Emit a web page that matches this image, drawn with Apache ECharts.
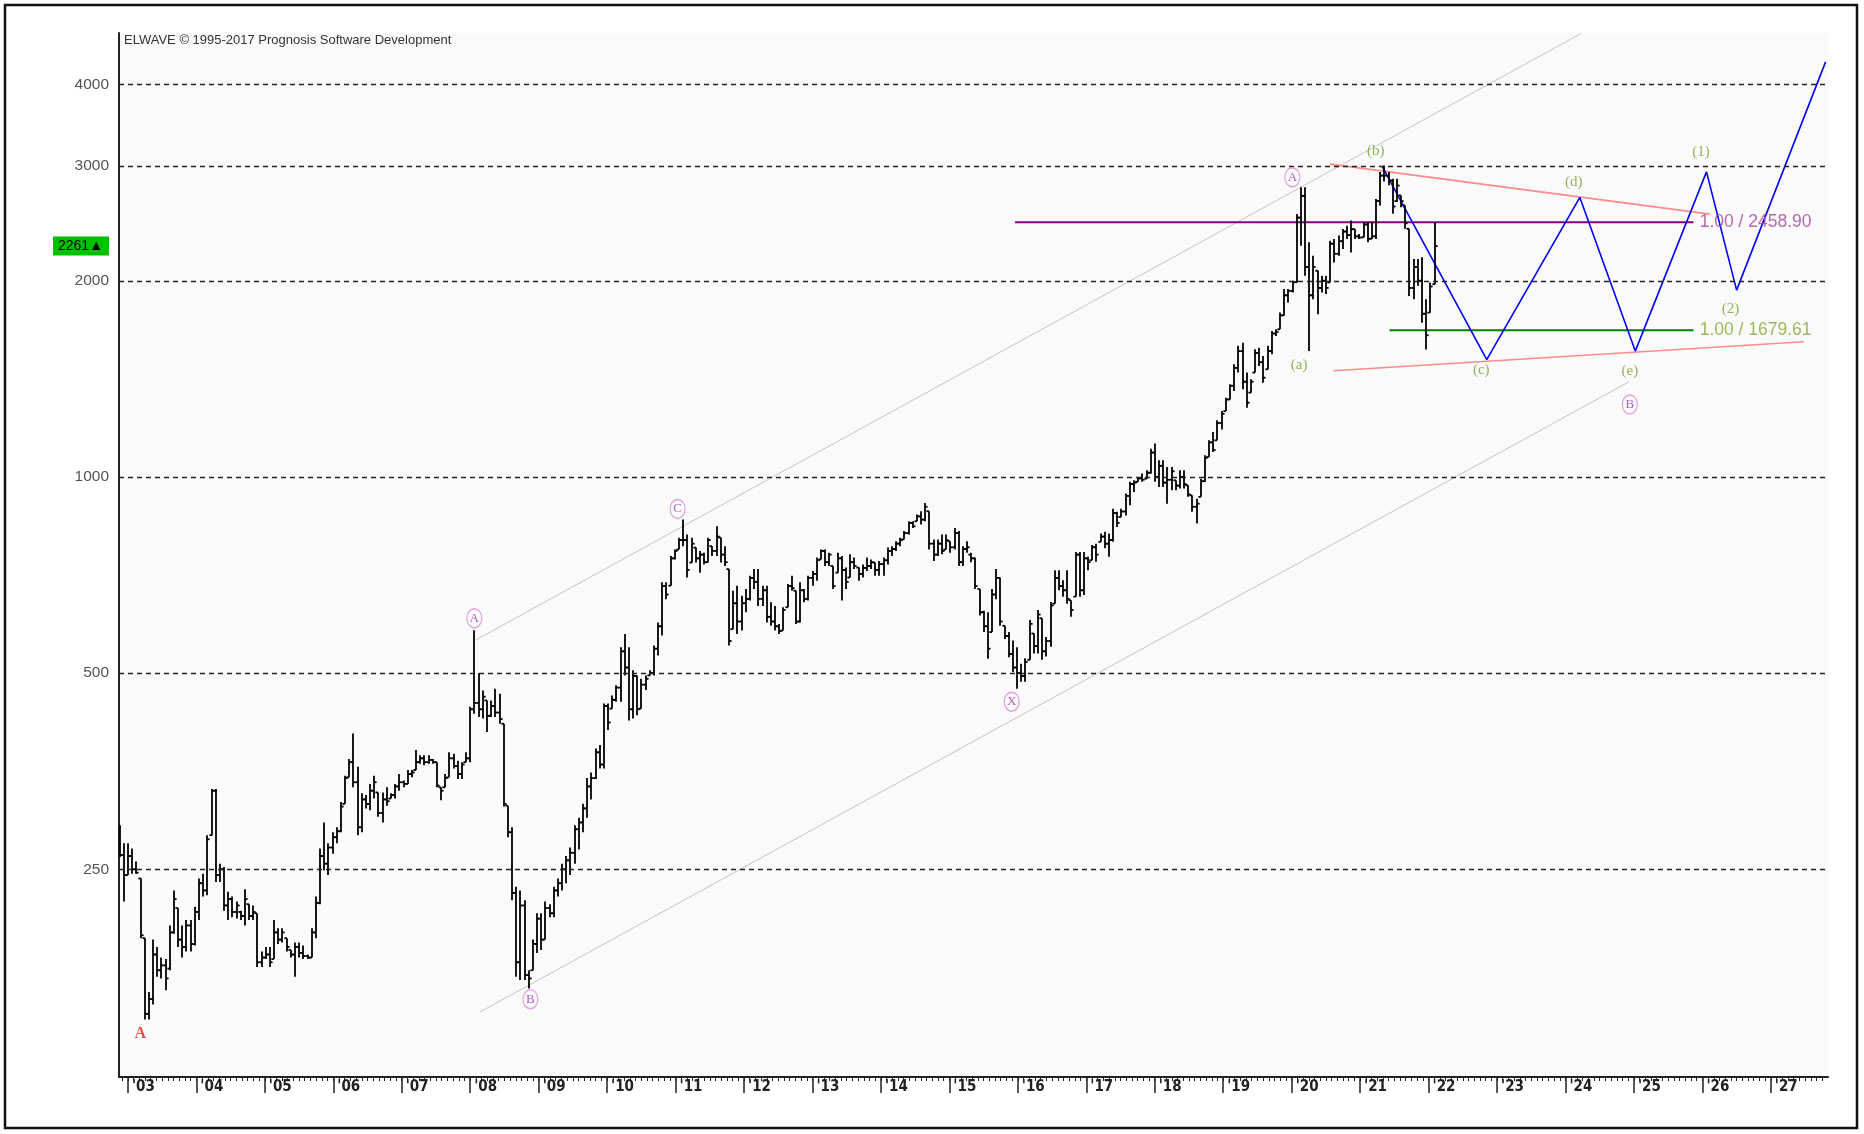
<!DOCTYPE html>
<html><head><meta charset="utf-8">
<script src="https://cdn.jsdelivr.net/npm/echarts@6/dist/echarts.min.js"></script>
<style>html,body{margin:0;padding:0;background:#fff}#c{width:1864px;height:1134px}</style>
</head><body><div id="c"></div>
<script>
// ---- time base of the bars (one bar every 1/16.4 year) ----
const firstBarYear = 2002.88;
const barsPerYear = 16.4;

// ---- OHLC bars [open, high, low, close] ----
const bars2003to2009 = [
[285,292,261,263],[263,274,223,245],[245,274,245,262],[262,269,246,250],[250,257,246,247],
[242,242,196,198],[196,196,147,150],[150,162,147,158],[158,195,155,185],[185,190,171,175],
[175,183,170,178],[178,182,163,170],[176,205,175,200],[200,232,199,225],[218,218,190,195],
[195,205,183,190],[190,209,187,205],[205,209,187,192],[192,219,191,215],[215,242,209,238],
[238,246,227,232],[232,282,228,278],[282,332,282,330],[330,332,239,245],[245,255,239,250],
[250,252,216,220],[220,231,209,225],[225,227,211,215],[215,223,210,220],[215,216,209,212],
[212,233,205,225],[221,221,209,212],[212,220,209,215],[214,214,177,180],[180,187,177,183],
[183,190,182,185],[185,190,177,180],[182,209,182,200],[200,203,192,195],[195,203,193,200],
[196,196,187,190],[188,188,183,185],[185,193,171,190],[190,193,183,186],[186,191,182,184],
[184,185,182,183],[183,203,183,200],[200,227,196,222],[222,269,221,262],[262,295,249,255],
[255,274,245,270],[270,285,264,280],[280,290,274,286],[286,317,285,312],[315,348,315,345],
[346,369,346,365],[365,404,334,340],[340,359,282,290],[290,327,285,320],[320,325,310,315],
[315,338,308,330],[330,348,321,340],[328,328,301,305],[305,328,295,320],[320,334,313,318],
[321,327,321,325],[325,338,321,335],[335,350,330,340],[340,342,334,338],[338,355,338,350],
[350,355,346,352],[355,381,355,365],[365,374,363,370],[370,374,361,365],[365,374,363,368],
[368,369,363,365],[365,365,334,336],[334,334,319,330],[334,350,334,345],[346,378,346,370],
[370,376,357,360],[360,367,344,350],[350,365,344,362],[365,378,365,370],[370,444,365,440],
[440,582,433,450],[450,500,428,440],[440,470,426,460],[454,454,406,430],[430,454,428,445],
[445,473,428,435],[435,465,418,425],[418,418,312,315],[313,313,280,285],[285,290,224,230],
[230,235,171,180],[180,232,169,220],[220,224,169,172],[172,175,164,170],[175,195,175,192],
[192,214,186,210],[210,214,188,195],[195,223,195,218],[218,221,211,214],[214,235,211,232],
[232,242,227,238]
];
const bars2009to2016 = [
[238,255,232,250],[250,262,238,258],[258,270,245,265],[265,292,255,288],[288,300,268,295],
[295,315,285,310],[310,345,300,335],[335,352,320,345],
[345,383,344,378],[378,388,357,362],[362,449,357,445],[445,449,409,420],[441,462,441,455],
[455,479,452,475],[475,548,452,540],[540,574,496,510],[510,548,423,440],[440,505,426,495],
[495,496,431,440],[441,490,441,480],[480,496,471,490],[496,505,496,500],[500,551,496,545],
[545,598,532,590],[590,689,571,680],[680,689,649,660],[681,756,681,750],[750,774,747,770],
[774,807,774,800],[800,860,783,800],[800,816,701,720],[739,807,739,790],[779,779,739,750],
[750,770,713,760],[760,765,734,740],[740,807,739,800],[783,783,756,770],[770,840,756,810],
[807,807,739,760],[760,783,730,740],[722,722,551,560],[584,669,584,640],[640,681,574,600],
[600,657,581,640],[640,673,620,650],[650,705,646,700],[700,722,673,690],[690,722,634,650],
[650,681,634,670],[670,681,598,610],[610,642,591,600],[600,634,581,590],[590,595,574,580],
[581,631,581,625],[631,685,631,680],[680,705,669,675],[669,669,595,600],[600,689,598,670],
[670,673,642,650],[650,705,646,700],[700,717,681,710],[710,752,693,745],[747,774,747,770],
[770,774,730,740],[740,765,730,760],[730,730,673,680],[713,765,713,750],[750,756,646,720],
[720,726,673,690],[701,761,701,740],[740,752,722,730],[726,726,693,710],[710,734,701,725],
[725,752,717,730],[730,747,722,740],[739,739,705,720],[720,743,705,735],[735,752,705,745],
[745,779,734,770],[770,783,756,775],[775,797,770,790],[790,807,783,800],[802,826,802,820],
[820,855,816,850],[850,855,835,840],[855,876,855,870],[870,886,845,860],[860,912,855,900],
[886,886,774,790],[790,802,743,760],[760,802,756,790],[790,816,761,770],[774,816,774,800],
[797,797,765,780],[780,835,774,820],[820,826,730,740],[740,783,730,775],[775,797,765,780],
[760,765,740,750],[750,752,673,680],[673,673,613,620],[620,623,578,590],[590,620,526,545],
[578,673,578,660],[660,722,649,700],[700,701,591,600],[591,591,564,570],[570,578,529,535],
[535,561,502,510],[510,548,473,500]
];
const bars2016to2019 = [
[500,517,485,495],[495,527,485,520],[524,603,524,595],[575,575,536,550],[550,625,536,615],
[607,607,524,540],[540,568,530,560],[560,643,549,635],[639,719,639,700],[700,719,670,680],
[680,694,655,670],[670,719,639,650],[647,647,610,625],[655,767,655,760],[760,767,655,670],
[670,767,659,750],[750,754,719,740],[745,786,745,780],[780,790,741,760],[795,819,795,810],
[810,824,777,790],[790,819,754,800],[800,894,795,880],[880,884,838,850],[868,894,868,885],
[885,943,873,935],[935,983,905,975],[975,988,948,980],[983,1000,983,995],[995,1012,983,990],
[994,1024,994,1015],[1015,1105,1012,1090],[1090,1125,983,1000],[1000,1061,965,1040],[1040,1061,965,980],
[980,1036,910,990],[990,1036,954,1020],[988,988,954,970],[970,1024,960,1000],[1000,1024,960,975],
[971,971,932,940],[937,937,884,900],[900,926,848,910],[932,994,932,985],[985,1080,983,1070],
[1073,1138,1073,1130],[1130,1172,1092,1100],[1138,1222,1138,1210]
];
const bars2019to2022 = [
[1210,1262,1183,1250],[1262,1323,1262,1315],[1315,1387,1315,1380],[1380,1489,1355,1470],[1470,1589,1446,1560],
[1560,1607,1363,1400],[1400,1446,1277,1300],[1347,1412,1347,1400],[1446,1570,1446,1550],[1550,1579,1480,1500],
[1500,1533,1395,1420],[1463,1589,1463,1560],[1560,1675,1542,1660],[1660,1685,1646,1670],[1685,1788,1685,1770],
[1770,1942,1767,1900],[1900,1942,1852,1930],[1930,2000,1919,1990],[1990,2533,1988,2500],[2500,2784,2264,2700],
[2700,2784,2036,2100],[2100,2291,1561,1900],[1900,2185,1874,2100],[2072,2072,1777,1950],[1950,2036,1919,2000],
[2000,2036,1908,1950],[1988,2304,1988,2280],[2280,2318,2134,2200],[2200,2346,2185,2300],[2300,2402,2237,2380],
[2380,2430,2318,2350],[2350,2474,2211,2400],[2400,2402,2318,2340],[2340,2360,2318,2330],[2332,2459,2332,2440],
[2440,2459,2291,2320],[2320,2459,2318,2340],[2340,2671,2318,2650],[2650,2936,2609,2900],
[2900,3005,2840,2900],
[2900,2938,2802,2850],[2850,2869,2534,2600],[2650,2869,2641,2800],[2704,2704,2594,2650],[2610,2610,2403,2450],
[2403,2403,1896,1950],[1950,2160,1874,2100],[2100,2160,1965,2000],[2000,2173,1725,1780],[1780,1874,1569,1650],
[1787,1988,1787,1960],[1976,2460,1976,2261]
];

// ---- axis ticks ----
const yearTicks = [2003,2004,2005,2006,2007,2008,2009,2010,2011,2012,2013,2014,2015,2016,2017,2018,2019,2020,2021,2022,2023,2024,2025,2026,2027];
const priceGrid = [4000,3000,2000,1000,500,250];
const lastPrice = 2261;

// ---- drawn lines [year, value] ----
const upperChannel = [[2008.08,562],[2024.23,4793]];
const lowerChannel = [[2008.14,150.9],[2024.93,1400]];
const triangleTop = [[2020.56,3020],[2026.11,2531]];
const triangleBottom = [[2020.61,1455],[2027.48,1612]];
const targetHigh = [[2015.96,2458.9],[2025.87,2458.9]];
const targetLow = [[2021.43,1679.61],[2025.87,1679.61]];
const forecastPath = [[2021.32,3000],[2022.85,1514],[2024.21,2685],[2025.02,1560],[2026.06,2939],[2026.50,1935],[2027.80,4335]];

// ---- wave labels [text, year, value] ----
const redLabels = [['A',2003.18,140]];
const circledLabels = [['A',2008.06,607],['B',2008.88,158],['C',2011.03,893],['X',2015.91,452],['A',2020.01,2884],['B',2024.94,1292]];
const greenLabels = [['(a)',2020.11,1484],['(b)',2021.23,3162],['(c)',2022.77,1460],['(d)',2024.12,2835],['(e)',2024.94,1454],['(1)',2025.98,3149],['(2)',2026.41,1808]];
const targetTexts = [['1.00 / 2458.90',2025.96,2458.9],['1.00 / 1679.61',2025.96,1679.61]];

// ---- build ----
const allBars = [].concat(bars2003to2009, bars2009to2016, bars2016to2019, bars2019to2022);
const ohlcData = allBars.map((b, i) => [firstBarYear + i / barsPerYear, b[0], b[1], b[2], b[3]]);
const minorTicks = [];
for (let k = 0; k < 12 * 26; k++) { const v = 2002 + k / 12; if (v > 2002.87 && v < 2027.83) minorTicks.push(+v.toFixed(4)); }

const chart = echarts.init(document.getElementById('c'), null, {renderer: 'canvas'});
const barStyle = {stroke: '#000', lineWidth: 1.8};
function lineSeries(data, color, width) {
  return {type: 'line', data: data, showSymbol: false, symbol: 'none', silent: true,
    lineStyle: {color: color, width: width}, z: 3, animation: false};
}
const option = {
  animation: false,
  backgroundColor: '#ffffff',
  grid: {left: 119, right: 36, top: 33, bottom: 57, show: true, backgroundColor: '#fafafa', borderWidth: 0},
  xAxis: [{
    type: 'value', min: 2002.87, max: 2027.835,
    axisLine: {show: true, lineStyle: {color: '#222', width: 2}},
    axisTick: {show: true, customValues: yearTicks, length: 16, lineStyle: {color: '#222', width: 1.5}},
    axisLabel: {show: true, customValues: yearTicks, formatter: v => "'" + String(Math.round(v)).slice(2),
      align: 'left', padding: [0, 0, 0, 4], margin: 3, fontSize: 15, fontWeight: 'bold',
      fontFamily: '"Liberation Sans Narrow","DejaVu Sans Condensed",sans-serif', color: '#222'},
    splitLine: {show: false}
  }, {
    type: 'value', min: 2002.87, max: 2027.835, position: 'bottom',
    axisLine: {show: false},
    axisTick: {show: true, customValues: minorTicks, length: 4, lineStyle: {color: '#222', width: 1}},
    axisLabel: {show: false}, splitLine: {show: false}
  }],
  yAxis: {
    type: 'log', min: 120, max: 4800, logBase: 10,
    axisLine: {show: true, lineStyle: {color: '#222', width: 2}},
    axisTick: {show: false}, axisLabel: {show: false}, splitLine: {show: false}
  },
  graphic: [
    {type: 'rect', shape: {x: 5, y: 5, width: 1852, height: 1123}, style: {fill: null, stroke: '#111', lineWidth: 2.5}, z: 100, silent: true},
    {type: 'text', left: 124, top: 34, style: {text: 'ELWAVE \u00A9 1995-2017 Prognosis Software Development', font: '13px "Liberation Sans", sans-serif', fill: '#333'}, z: 100}
  ],
  series: [
    {
      type: 'custom', name: 'bars', data: ohlcData, clip: true, z: 4,
      encode: {x: 0, y: [1, 2, 3, 4]},
      renderItem: function (params, api) {
        const x = api.value(0);
        const pO = api.coord([x, api.value(1)]);
        const pH = api.coord([x, api.value(2)]);
        const pL = api.coord([x, api.value(3)]);
        const pC = api.coord([x, api.value(4)]);
        const cx = Math.round(pH[0]);
        return {type: 'group', children: [
          {type: 'line', shape: {x1: cx, y1: pH[1], x2: cx, y2: pL[1]}, style: barStyle},
          {type: 'line', shape: {x1: cx - 2.6, y1: pO[1], x2: cx, y2: pO[1]}, style: barStyle},
          {type: 'line', shape: {x1: cx, y1: pC[1], x2: cx + 2.6, y2: pC[1]}, style: barStyle}
        ]};
      }
    },
    lineSeries(upperChannel, '#c4c4c4', 1),
    lineSeries(lowerChannel, '#c4c4c4', 1),
    lineSeries(triangleTop, '#ff8a8a', 1.6),
    lineSeries(triangleBottom, '#ff8a8a', 1.6),
    Object.assign(lineSeries(targetHigh, '#800080', 2), {
      markLine: {
        silent: true, symbol: ['none', 'none'], animation: false,
        lineStyle: {color: '#222', type: [5, 4], width: 1.4},
        label: {show: true, position: 'start', distance: 10, formatter: p => String(p.value),
          color: '#555', fontSize: 15.5, fontFamily: '"Liberation Sans", sans-serif'},
        data: priceGrid.map(v => ({yAxis: v}))
      }
    }),
    Object.assign(lineSeries(targetLow, '#008000', 2), {
      markLine: {
        silent: true, symbol: ['none', 'none'], animation: false,
        lineStyle: {color: 'rgba(0,0,0,0)', width: 0},
        label: {show: true, position: 'start', distance: 10, formatter: String(lastPrice) + '\u25B2',
          backgroundColor: '#00c000', color: '#000', padding: [3, 6, 2, 5], fontSize: 14,
          fontFamily: '"Liberation Sans", sans-serif'},
        data: [{yAxis: lastPrice}]
      }
    }),
    lineSeries(forecastPath, '#0000ff', 1.6),
    {
      type: 'scatter', symbolSize: 0, silent: true, z: 6,
      data: redLabels.map(d => ({name: d[0], value: [d[1], d[2]]})),
      label: {show: true, position: 'inside', formatter: '{b}', color: '#ff1a1a', fontSize: 16, fontWeight: 'bold',
        fontFamily: '"Liberation Serif", serif'}
    },
    {
      type: 'scatter', symbol: 'circle', symbolSize: [15, 19], silent: true, z: 6,
      itemStyle: {color: 'rgba(255,255,255,0)', borderColor: '#d88ad8', borderWidth: 1.3},
      data: circledLabels.map(d => ({name: d[0], value: [d[1], d[2]]})),
      label: {show: true, position: 'inside', formatter: '{b}', color: '#9a3aa8', fontSize: 13,
        fontFamily: '"Liberation Serif", serif'}
    },
    {
      type: 'scatter', symbolSize: 0, silent: true, z: 6,
      data: greenLabels.map(d => ({name: d[0], value: [d[1], d[2]]})),
      label: {show: true, position: 'inside', formatter: '{b}', color: '#78a032', fontSize: 15,
        fontFamily: '"Liberation Serif", serif'}
    },
    {
      type: 'scatter', symbolSize: 0, silent: true, z: 6,
      data: targetTexts.map((d, i) => ({name: d[0], value: [d[1], d[2]],
        label: {color: i === 0 ? '#a0469a' : '#84a832'}})),
      label: {show: true, position: 'right', distance: 0, formatter: '{b}', fontSize: 17.5,
        fontFamily: '"Liberation Sans", sans-serif'}
    }
  ]
};
chart.setOption(option);
</script>
</body></html>
